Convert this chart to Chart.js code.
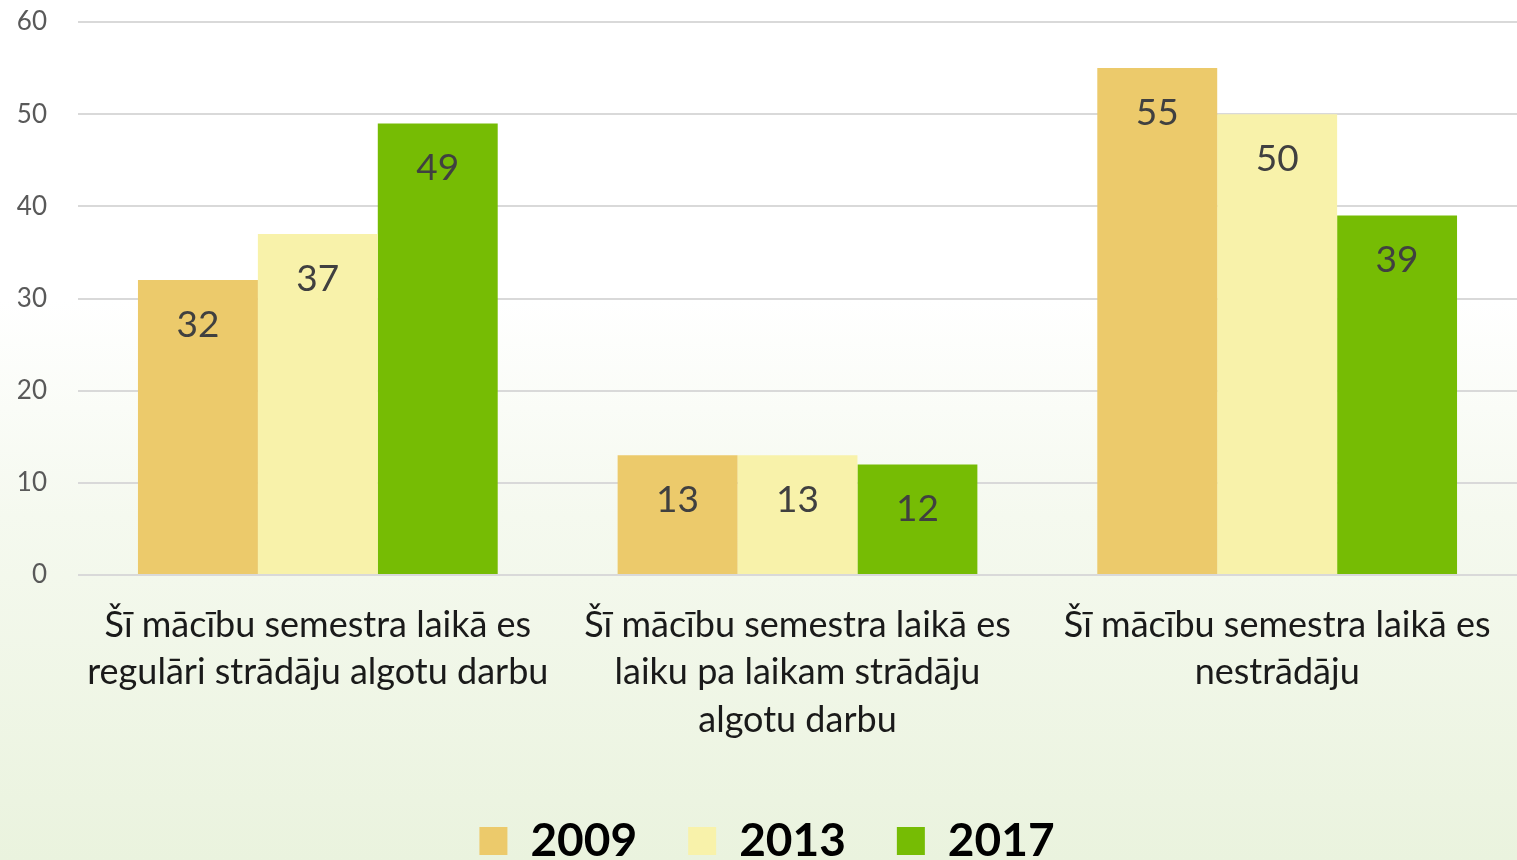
<!DOCTYPE html>
<html>
<head>
<meta charset="utf-8">
<script src="https://cdn.jsdelivr.net/npm/chart.js@4.4.1/dist/chart.umd.min.js"></script>
<style>
  html, body { margin: 0; padding: 0; }
  body {
    width: 1517px; height: 860px; overflow: hidden;
    background: linear-gradient(to bottom, #ffffff 0%, #ffffff 35%, #f5f9ef 60%, #eaf3de 100%);
  }
  #wrap { position: relative; width: 1517px; height: 860px; }
</style>
</head>
<body>
<div id="wrap"><canvas id="chart"></canvas></div>
<script>
// categories (multi-line labels)
const categories = [
  ["Šī mācību semestra laikā es", "regulāri strādāju algotu darbu"],
  ["Šī mācību semestra laikā es", "laiku pa laikam strādāju", "algotu darbu"],
  ["Šī mācību semestra laikā es", "nestrādāju"]
];

const years = ["2009", "2013", "2017"];
const values2009 = [32, 13, 55];
const values2013 = [37, 13, 50];
const values2017 = [49, 12, 39];

const colors = {
  "2009": "#ecca6b",
  "2013": "#f8f2aa",
  "2017": "#76bc04"
};

const FONT = "'Source Sans Pro', Lato, 'Noto Sans', sans-serif";

// values written inside bars, just under the top
const barLabels = {
  id: "barLabels",
  afterDatasetsDraw(chart) {
    const ctx = chart.ctx;
    ctx.save();
    ctx.font = "37px " + FONT;
    ctx.fillStyle = "#404040";
    ctx.textAlign = "center";
    ctx.textBaseline = "middle";
    chart.data.datasets.forEach((ds, i) => {
      const meta = chart.getDatasetMeta(i);
      meta.data.forEach((bar, j) => {
        ctx.fillText(ds.data[j], bar.x, bar.y + 45);
      });
    });
    ctx.restore();
  }
};

// legend sits lower, right at the bottom edge
const LEGEND_SHIFT = 14;
const legendShift = {
  id: "legendShift",
  afterLayout(chart) {
    chart.legend.top += LEGEND_SHIFT;
    chart.legend.bottom += LEGEND_SHIFT;
  }
};

const ctx = document.getElementById("chart").getContext("2d");

new Chart(ctx, {
  type: "bar",
  data: {
    labels: categories,
    datasets: [
      { label: years[0], data: values2009, backgroundColor: colors["2009"] },
      { label: years[1], data: values2013, backgroundColor: colors["2013"] },
      { label: years[2], data: values2017, backgroundColor: colors["2017"] }
    ]
  },
  options: {
    responsive: true,
    maintainAspectRatio: false,
    animation: false,
    datasets: {
      bar: { barPercentage: 1.0, categoryPercentage: 0.75, borderWidth: 0 }
    },
    layout: { padding: { top: 22, left: 17, right: 0, bottom: 0 } },
    plugins: {
      tooltip: { enabled: false },
      legend: {
        position: "bottom",
        labels: {
          boxWidth: 28,
          boxHeight: 28,
          padding: 51,
          color: "#000000",
          font: { family: FONT, size: 46, weight: "bold" }
        }
      }
    },
    scales: {
      x: {
        grid: { display: false },
        border: { display: false },
        afterFit(scale) {
          scale.paddingLeft = 0;
          scale.paddingRight = 0;
          scale.height = 178;
        },
        ticks: {
          color: "#1a1a1a",
          padding: 19,
          maxRotation: 0,
          autoSkip: false,
          font: { family: FONT, size: 36, lineHeight: 1.31 }
        }
      },
      y: {
        min: 0,
        max: 60,
        border: { display: false },
        grid: { color: "#d9d9d9", lineWidth: 2, drawTicks: false },
        afterFit(scale) {
          scale.width = 61;
          scale.paddingTop = 0;
          scale.paddingBottom = 0;
        },
        ticks: {
          stepSize: 10,
          color: "#595959",
          padding: 31,
          font: { family: FONT, size: 26 }
        }
      }
    }
  },
  plugins: [barLabels, legendShift]
});
</script>
</body>
</html>
